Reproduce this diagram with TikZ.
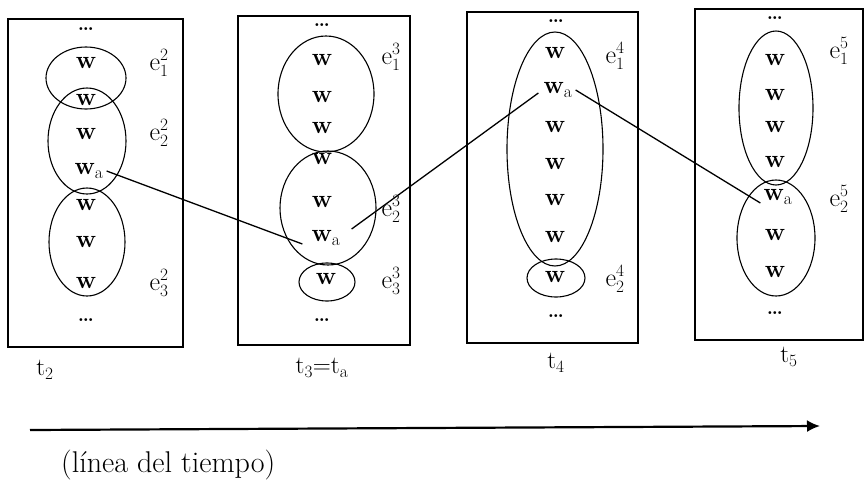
\documentclass[tikz,border=0pt]{standalone}
\usepackage{fontspec}
\usetikzlibrary{arrows.meta}
\begin{document}
\begin{tikzpicture}[x=1pt,y=-1pt,
  every node/.style={inner sep=1pt},
  wnode/.style={font=\fontsize{25}{28}\selectfont\bfseries},
  lab/.style={font=\fontsize{26}{30}\selectfont},
  tlab/.style={font=\fontsize{25}{28}\selectfont},
  frame/.style={draw, line width=1.4pt},
  grp/.style={draw, line width=1.1pt},
  link/.style={draw, line width=1.3pt},
  dots/.style={font=\fontsize{20}{22}\selectfont\bfseries}]
\useasboundingbox (0,0) rectangle (868,485);
% ---- frames
\draw[frame] (8,19) rectangle (183,347);
\draw[frame] (238,16) rectangle (410,345);
\draw[frame] (467,12) rectangle (638,343);
\draw[frame] (695,9) rectangle (863,340);
% ---- box t2
\node[dots] (d1a) at (86,29) {\dots};
\node[wnode] (a1) at (86,63) {w};
\node[wnode] (a2) at (86,100) {w};
\node[wnode] (a3) at (86,134) {w};
\node[wnode] (wa1) at (89,171) {w$_{\mathrm{a}}$};
\node[wnode] (a5) at (86,205) {w};
\node[wnode] (a6) at (86,242) {w};
\node[wnode] (a7) at (86,283) {w};
\node[dots] (d1b) at (86,320) {\dots};
\draw[grp] (86,78) ellipse [x radius=40, y radius=31];
\draw[grp] (87,141) ellipse [x radius=39, y radius=53];
\draw[grp] (87,242) ellipse [x radius=38, y radius=54];
\node[lab] (e21) at (159,63) {e$^2_1$};
\node[lab] (e22) at (159,133) {e$^2_2$};
\node[lab] (e23) at (159,283) {e$^2_3$};
% ---- box t3
\node[dots] (d2a) at (322,25) {\dots};
\node[wnode] (b1) at (322,60) {w};
\node[wnode] (b2) at (322,97) {w};
\node[wnode] (b3) at (322,128) {w};
\node[wnode] (b4) at (322,159) {w};
\node[wnode] (b5) at (322,202) {w};
\node[wnode] (wa2) at (326,238) {w$_{\mathrm{a}}$};
\node[wnode] (b7) at (326,279) {w};
\node[dots] (d2b) at (322,320) {\dots};
\draw[grp] (326,94) ellipse [x radius=48, y radius=58];
\draw[grp] (328,208) ellipse [x radius=48, y radius=57];
\draw[grp] (327,282) ellipse [x radius=28, y radius=19];
\node[lab] (e31) at (391,57) {e$^3_1$};
\node[lab] (e32) at (391,209) {e$^3_2$};
\node[lab] (e33) at (391,281) {e$^3_3$};
% ---- box t4
\node[dots] (d3a) at (556,21) {\dots};
\node[wnode] (c1) at (555,53) {w};
\node[wnode] (wa3) at (558,90) {w$_{\mathrm{a}}$};
\node[wnode] (c3) at (555,127) {w};
\node[wnode] (c4) at (555,164) {w};
\node[wnode] (c5) at (555,200) {w};
\node[wnode] (c6) at (555,237) {w};
\node[wnode] (c7) at (555,277) {w};
\node[dots] (d3b) at (556,316) {\dots};
\draw[grp] (555,149) ellipse [x radius=48, y radius=117];
\draw[grp] (556,278) ellipse [x radius=29, y radius=19];
\node[lab] (e41) at (615,56) {e$^4_1$};
\node[lab] (e42) at (615,279) {e$^4_2$};
% ---- box t5
\node[dots] (d4a) at (775,18) {\dots};
\node[wnode] (f1) at (775,60) {w};
\node[wnode] (f2) at (775,95) {w};
\node[wnode] (f3) at (775,127) {w};
\node[wnode] (f4) at (775,162) {w};
\node[wnode] (wa4) at (778,197) {w$_{\mathrm{a}}$};
\node[wnode] (f6) at (775,235) {w};
\node[wnode] (f7) at (775,272) {w};
\node[dots] (d4b) at (775,313) {\dots};
\draw[grp] (776,108) ellipse [x radius=37, y radius=77];
\draw[grp] (776,238) ellipse [x radius=39, y radius=58];
\node[lab] (e51) at (839,51) {e$^5_1$};
\node[lab] (e52) at (839,199) {e$^5_2$};
% ---- links
\draw[link] ([xshift=2pt]wa1.east) -- ([xshift=-8pt,yshift=-6pt]wa2.west);
\draw[link] ([xshift=10pt,yshift=9pt]wa2.east) -- ([xshift=-4pt,yshift=-3pt]wa3.west);
\draw[link] ([xshift=2pt]wa3.east) -- ([xshift=-2pt,yshift=-6pt]wa4.west);
% ---- time labels
\node[tlab] (t2) at (45,370) {t$_2$};
\node[tlab] (t3) at (322,368) {t$_3$=t$_{\mathrm{a}}$};
\node[tlab] (t4) at (556,363) {t$_4$};
\node[tlab] (t5) at (789,357) {t$_5$};
% ---- time axis
\coordinate (ax0) at (30,430);
\coordinate (ax1) at (820,426);
\draw[line width=2.2pt, -{Latex[length=13pt,width=12pt]}] (ax0) -- (ax1);
\node[font=\fontsize{30}{34}\selectfont, anchor=west] (tl) at (60,465) {(línea del tiempo)};
\end{tikzpicture}
\end{document}
